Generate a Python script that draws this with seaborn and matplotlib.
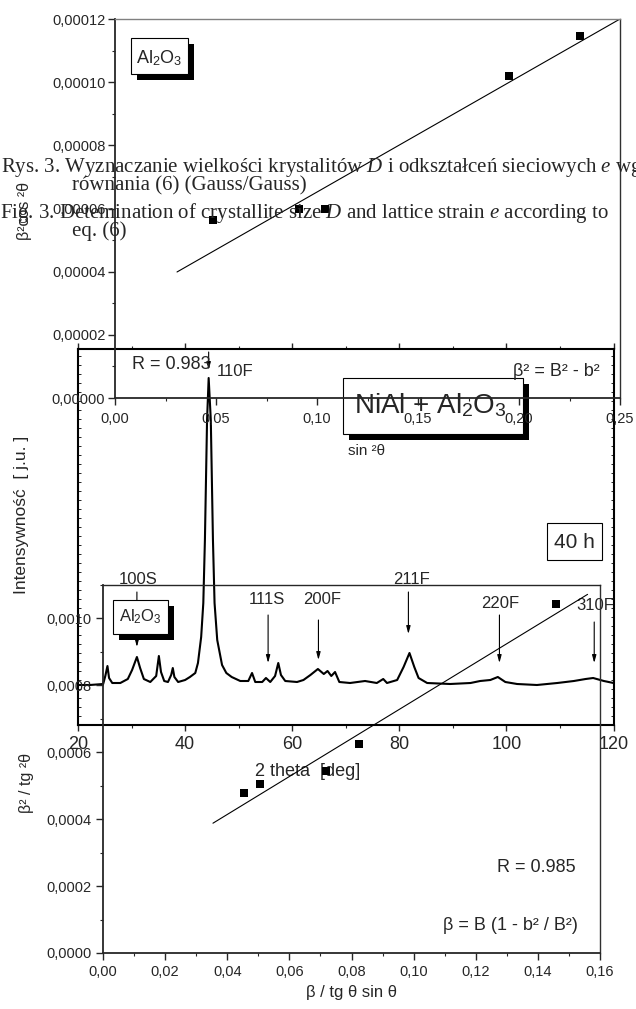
import numpy as np
import pandas as pd
import matplotlib
matplotlib.use("Agg")
import matplotlib.pyplot as plt
import seaborn as sns
from matplotlib.patches import Rectangle
from matplotlib.ticker import MultipleLocator

# ---------------- DATA ----------------
# Chart A : beta^2 cos^2(theta) vs sin^2(theta)  (Al2O3, Gauss/Gauss)
a_sin2 = [0.0485, 0.0911, 0.104, 0.195, 0.230]
a_beta2cos2 = [5.64e-5, 5.98e-5, 5.98e-5, 1.02e-4, 1.146e-4]
a_fit_x = [0.0307, 0.25]
a_fit_y = [3.99e-5, 1.20e-4]
a_xticks = [0.0, 0.05, 0.10, 0.15, 0.20, 0.25]
a_xticklabels = ["0,00", "0,05", "0,10", "0,15", "0,20", "0,25"]
a_yticks = [0.0, 2e-5, 4e-5, 6e-5, 8e-5, 1e-4, 1.2e-4]
a_yticklabels = ["0,00000", "0,00002", "0,00004", "0,00006", "0,00008", "0,00010", "0,00012"]

# Chart B : XRD pattern NiAl + Al2O3, 40 h
xrd_2theta = [20.0, 22.2, 24.7, 25.1, 25.5, 25.8, 26.4, 27.9, 29.3, 30.1,
              31.0, 31.6, 32.3, 33.5, 34.6, 35.1, 35.5, 36.1, 36.8, 37.4,
              37.7, 38.0, 38.7, 40.0, 40.9, 41.9, 42.4, 43.0, 43.4, 43.7,
              44.1, 44.4, 44.8, 45.2, 45.5, 46.0, 46.9, 47.7, 48.7, 50.3,
              51.8, 52.5, 53.1, 54.4, 55.1, 55.9, 56.8, 57.4, 57.9, 58.7,
              60.9, 62.1, 63.4, 64.8, 65.9, 66.6, 67.3, 68.0, 68.8, 70.8,
              73.6, 75.8, 77.0, 77.7, 79.6, 80.8, 81.9, 82.8, 83.6, 85.2,
              89.5, 93.3, 95.1, 97.0, 98.4, 99.8, 102.0, 105.7, 109.5, 112.6,
              114.8, 116.2, 118.2, 120.0]
xrd_intensity = [40, 40, 41, 49, 59, 47, 42, 42, 46, 55,
                 68, 57, 46, 43, 49, 69, 53, 44, 43, 50,
                 57, 48, 43, 45, 48, 52, 62, 88, 122, 185,
                 305, 347, 305, 185, 122, 85, 60, 52, 48, 44,
                 44, 52, 43, 43, 47, 43, 49, 62, 50, 44,
                 43, 45, 50, 56, 51, 54, 49, 53, 43, 42,
                 44, 42, 46, 42, 45, 58, 72, 58, 47, 42,
                 41, 42, 44, 45, 48, 43, 41, 40, 42, 44,
                 46, 47, 44, 42]
b_xticks = [20, 40, 60, 80, 100, 120]
b_xticklabels = ["20", "40", "60", "80", "100", "120"]
peak_names = ["100S", "110F", "111S", "200F", "211F", "220F", "310F"]
peak_2theta = [31.0, 44.4, 55.5, 64.9, 81.7, 98.7, 116.4]

# Chart C : beta^2/tg^2(theta) vs beta/(tg(theta) sin(theta))
c_x = [0.0454, 0.0505, 0.0718, 0.0824, 0.1458]
c_y = [4.78e-4, 5.04e-4, 5.43e-4, 6.24e-4, 1.042e-3]
c_fit_x = [0.0354, 0.156]
c_fit_y = [3.88e-4, 1.072e-3]
c_xticks = [0.0, 0.02, 0.04, 0.06, 0.08, 0.10, 0.12, 0.14, 0.16]
c_xticklabels = ["0,00", "0,02", "0,04", "0,06", "0,08", "0,10", "0,12", "0,14", "0,16"]
c_yticks = [0.0, 0.0002, 0.0004, 0.0006, 0.0008, 0.0010]
c_yticklabels = ["0,0000", "0,0002", "0,0004", "0,0006", "0,0008", "0,0010"]

# ---------------- LAYOUT (pixels) ----------------
W, H = 636, 1009
RECT_A = (115, 19, 620, 398)
RECT_B = (78, 349, 613.5, 725)
RECT_C = (103, 585, 600, 953)
# label centre (px), arrow tail / head in intensity units
peak_layout = {
    "100S": (138, 579, 133, 78),
    "110F": (235, 372, 373, 355),
    "111S": (267, 599, 110, 62),
    "200F": (322, 600, 105, 65),
    "211F": (411, 580, 133, 91),
    "220F": (500, 603, 110, 62),
    "310F": (595, 605, 103, 62),
}

sns.set_style("ticks")
plt.rcParams["font.family"] = ["Liberation Sans", "DejaVu Sans"]
plt.rcParams["mathtext.fontset"] = "custom"
plt.rcParams["mathtext.rm"] = "Liberation Serif"
plt.rcParams["mathtext.it"] = "Liberation Serif:italic"

fig = plt.figure(figsize=(W / 100, H / 100), dpi=100, facecolor="white")


def rect(r):
    l, t, rr, b = r
    return [l / W, 1 - b / H, (rr - l) / W, (b - t) / H]


def T(ax, x, y, s, **kw):
    return ax.text(x / W, 1 - y / H, s, transform=fig.transFigure, **kw)


def box(ax, l, t, r, b, shadow=0, lw=0.8):
    if shadow:
        ax.add_patch(Rectangle(((l + shadow) / W, 1 - (b + shadow) / H), (r - l) / W, (b - t) / H,
                               transform=fig.transFigure, facecolor="black", edgecolor="black",
                               lw=0, clip_on=False, zorder=5))
    ax.add_patch(Rectangle((l / W, 1 - b / H), (r - l) / W, (b - t) / H,
                           transform=fig.transFigure, facecolor="white", edgecolor="black",
                           lw=lw, clip_on=False, zorder=6))


axB = fig.add_axes(rect(RECT_B), facecolor="none")
axC = fig.add_axes(rect(RECT_C), facecolor="none")
axA = fig.add_axes(rect(RECT_A), facecolor="none")

# ---------- Chart B : XRD ----------
sns.lineplot(x=xrd_2theta, y=xrd_intensity, ax=axB, color="black", linewidth=1.5,
             estimator=None, sort=False)
axB.set_xlim(20, 120)
axB.set_ylim(0, 376)
axB.set_xticks(b_xticks, b_xticklabels)
axB.xaxis.set_minor_locator(MultipleLocator(10))
axB.yaxis.set_major_locator(MultipleLocator(45))
axB.yaxis.set_minor_locator(MultipleLocator(9))
axB.tick_params(axis="x", which="major", direction="out", length=4, width=1, labelsize=13, pad=4, top=True)
axB.tick_params(axis="x", which="minor", direction="out", length=2.5, width=0.8, top=True)
axB.tick_params(axis="y", which="both", direction="in", length=2, width=0.7, left=True, right=True,
                labelleft=False)
for s in axB.spines.values():
    s.set_linewidth(1.5)
    s.set_color("black")
axB.set_xlabel("")
axB.set_ylabel("")
for name, pos in zip(peak_names, peak_2theta):
    lx, ly, tail, head = peak_layout[name]
    axB.annotate("", xy=(pos, head), xytext=(pos, tail),
                 arrowprops=dict(arrowstyle="-|>,head_width=0.12,head_length=0.45",
                                 color="black", lw=0.8, shrinkA=0, shrinkB=0),
                 annotation_clip=False)
    T(axB, lx, ly, name, fontsize=12, ha="center", va="center")
box(axB, 343, 378, 523, 434, shadow=6)
T(axB, 430, 413, r"NiAl + Al$_{\mathregular{2}}$O$_{\mathregular{3}}$", fontsize=20,
  ha="center", va="baseline", zorder=7)
box(axB, 547, 523, 602, 560)
T(axB, 574.5, 542, "40 h", fontsize=15, ha="center", va="center", zorder=7)
T(axB, 308, 771, "2 theta  [deg]", fontsize=13, ha="center", va="center")
T(axB, 22, 515, "Intensywność  [ j.u. ]", fontsize=12.5, ha="center", va="center", rotation=90)

# ---------- Chart C ----------
sns.scatterplot(x=c_x, y=c_y, ax=axC, marker="s", color="black", s=28, linewidth=0, zorder=3)
sns.lineplot(x=c_fit_x, y=c_fit_y, ax=axC, color="black", linewidth=0.8)
axC.set_xlim(0, 0.16)
axC.set_ylim(0, 0.0011)
axC.set_xticks(c_xticks, c_xticklabels)
axC.set_yticks(c_yticks, c_yticklabels)
axC.xaxis.set_minor_locator(MultipleLocator(0.01))
axC.yaxis.set_minor_locator(MultipleLocator(0.0001))
axC.tick_params(which="major", direction="out", length=5, width=1, labelsize=10.5)
axC.tick_params(axis="x", which="major", pad=4)
axC.tick_params(axis="y", which="major", pad=3)
axC.tick_params(which="minor", direction="out", length=2.5, width=0.8)
axC.spines["left"].set_linewidth(1.3)
axC.spines["bottom"].set_linewidth(1.3)
axC.spines["top"].set_linewidth(1.0)
axC.spines["right"].set_linewidth(1.0)
axC.spines["right"].set_color("#303030")
axC.set_xlabel("")
axC.set_ylabel("")
box(axC, 113, 600, 168, 634, shadow=6)
T(axC, 140.5, 622, r"Al$_{\mathregular{2}}$O$_{\mathregular{3}}$", fontsize=12, ha="center",
  va="baseline", zorder=7)
T(axC, 497, 868, "R = 0.985", fontsize=13, ha="left", va="center")
T(axC, 443, 925, "β = B (1 - b² / B²)", fontsize=13, ha="left", va="center")
T(axC, 351, 992, "β / tg θ sin θ", fontsize=12, ha="center", va="center")
T(axC, 26, 783, "β² / tg ²θ", fontsize=11.5, ha="center", va="center", rotation=90)

# ---------- Chart A ----------
sns.scatterplot(x=a_sin2, y=a_beta2cos2, ax=axA, marker="s", color="black", s=28, linewidth=0, zorder=3)
sns.lineplot(x=a_fit_x, y=a_fit_y, ax=axA, color="black", linewidth=0.8)
axA.set_xlim(0, 0.25)
axA.set_ylim(0, 0.00012)
axA.set_xticks(a_xticks, a_xticklabels)
axA.set_yticks(a_yticks, a_yticklabels)
axA.xaxis.set_minor_locator(MultipleLocator(0.025))
axA.yaxis.set_minor_locator(MultipleLocator(0.00001))
axA.tick_params(which="major", direction="out", length=5, width=1, labelsize=10.5)
axA.tick_params(axis="x", which="major", pad=5)
axA.tick_params(axis="y", which="major", pad=2)
axA.tick_params(which="minor", direction="out", length=2.5, width=0.8)
axA.spines["left"].set_linewidth(1.3)
axA.spines["bottom"].set_linewidth(1.3)
axA.spines["top"].set_linewidth(1.0)
axA.spines["top"].set_color("#808080")
axA.spines["right"].set_linewidth(1.0)
axA.spines["right"].set_color("#303030")
axA.set_xlabel("")
axA.set_ylabel("")
box(axA, 131, 38, 188, 74, shadow=6)
T(axA, 159.5, 63, r"Al$_{\mathregular{2}}$O$_{\mathregular{3}}$", fontsize=13, ha="center",
  va="baseline", zorder=7)
T(axA, 132, 365, "R = 0.983", fontsize=13, ha="left", va="center")
T(axA, 513, 372, "β² = B² - b²", fontsize=13, ha="left", va="center")
T(axA, 367, 451, "sin ²θ", fontsize=11, ha="center", va="center")
T(axA, 25, 211, "β²cos ²θ", fontsize=11.5, ha="center", va="center", rotation=90)

# ---------- Caption (overlaid, serif) ----------
cap_kw = dict(fontsize=15, family=["Liberation Serif", "DejaVu Serif"], va="baseline", ha="left")
fig.text(1 / W, 1 - 172 / H, "Rys. 3. Wyznaczanie wielkości krystalitów $D$ i odkształceń sieciowych $e$ wg", **cap_kw)
fig.text(72 / W, 1 - 190 / H, "równania (6) (Gauss/Gauss)", **cap_kw)
fig.text(0 / W, 1 - 218 / H, "Fig. 3. Detemination of crystallite size $D$ and lattice strain $e$ according to", **cap_kw)
fig.text(72 / W, 1 - 236 / H, "eq. (6)", **cap_kw)

fig.savefig("out.png", dpi=100, facecolor="white")
